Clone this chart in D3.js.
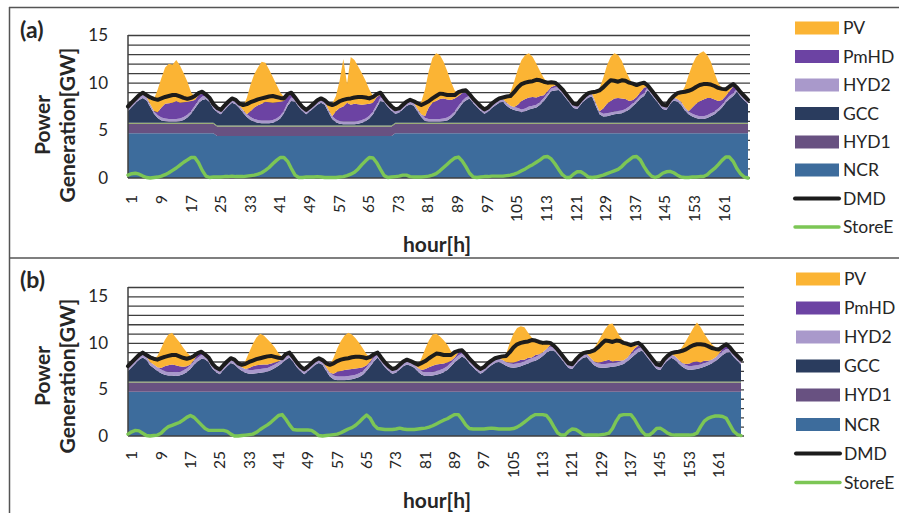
<!DOCTYPE html>
<html><head><meta charset="utf-8">
<script src="https://cdn.jsdelivr.net/npm/d3@7"></script>
<style>body{margin:0;background:#fff;}svg{display:block;font-family:Lato,"Open Sans",sans-serif;}</style>
</head><body>
<svg id="chart" width="899" height="513"></svg>
<script>
// ---------------- DATA ----------------
const xTickLabels = [1,9,17,25,33,41,49,57,65,73,81,89,97,105,113,121,129,137,145,153,161];
const legendNames = ["PV","PmHD","HYD2","GCC","HYD1","NCR","DMD","StoreE"];

// Demand (same in both panels)
const dmd = [
7.5,7.9,8.3,8.7,8.95,8.7,8.45,8.3,8.2,8.35,8.5,8.6,8.7,8.7,8.55,8.4,8.3,8.4,8.6,8.9,9.05,8.75,8.4,7.75,
7.35,7.15,7.6,8.0,8.35,8.2,7.8,7.65,7.75,7.95,8.1,8.25,8.35,8.45,8.55,8.6,8.5,8.4,8.35,8.8,8.95,8.45,7.9,7.45,
7.15,7.45,7.8,8.15,8.35,8.15,7.8,7.65,7.8,8.05,8.2,8.3,8.35,8.45,8.5,8.5,8.45,8.35,8.5,8.8,8.95,8.4,7.9,7.5,
7.2,7.3,7.65,8.0,8.2,8.05,7.85,7.65,7.85,8.05,8.35,8.6,8.85,8.8,8.7,8.7,8.7,9.0,9.15,9.2,8.8,8.3,7.9,7.5,
7.2,7.4,7.8,8.1,8.35,8.45,8.55,8.6,9.0,9.5,9.85,10.0,10.1,10.15,10.3,10.25,10.1,10.0,10.05,10.0,9.7,9.3,8.8,8.3,
7.8,7.7,8.2,8.6,8.9,9.0,9.05,9.2,9.5,9.9,10.25,10.2,10.1,10.25,10.2,10.0,9.9,9.75,9.9,10.0,9.7,9.2,8.7,8.2,
7.7,7.6,8.2,8.6,8.9,9.0,9.05,9.15,9.3,9.55,9.75,9.85,9.85,9.8,9.65,9.45,9.35,9.3,9.6,9.85,9.5,9.0,8.6,8.2];

// ----- Panel (a) -----
const ncrA = [
4.7,4.7,4.7,4.7,4.7,4.7,4.7,4.7,4.7,4.7,4.7,4.7,4.7,4.7,4.7,4.7,4.7,4.7,4.7,4.7,4.7,4.7,4.7,4.7,
4.4,4.4,4.4,4.4,4.4,4.4,4.4,4.4,4.4,4.4,4.4,4.4,4.4,4.4,4.4,4.4,4.4,4.4,4.4,4.4,4.4,4.4,4.4,4.4,
4.4,4.4,4.4,4.4,4.4,4.4,4.4,4.4,4.4,4.4,4.4,4.4,4.4,4.4,4.4,4.4,4.4,4.4,4.4,4.4,4.4,4.4,4.4,4.4,
4.7,4.7,4.7,4.7,4.7,4.7,4.7,4.7,4.7,4.7,4.7,4.7,4.7,4.7,4.7,4.7,4.7,4.7,4.7,4.7,4.7,4.7,4.7,4.7,
4.7,4.7,4.7,4.7,4.7,4.7,4.7,4.7,4.7,4.7,4.7,4.7,4.7,4.7,4.7,4.7,4.7,4.7,4.7,4.7,4.7,4.7,4.7,4.7,
4.7,4.7,4.7,4.7,4.7,4.7,4.7,4.7,4.7,4.7,4.7,4.7,4.7,4.7,4.7,4.7,4.7,4.7,4.7,4.7,4.7,4.7,4.7,4.7,
4.7,4.7,4.7,4.7,4.7,4.7,4.7,4.7,4.7,4.7,4.7,4.7,4.7,4.7,4.7,4.7,4.7,4.7,4.7,4.7,4.7,4.7,4.7,4.7];
const hyd1A = [
1,1,1,1,1,1,1,1,1,1,1,1,1,1,1,1,1,1,1,1,1,1,1,1,
1,1,1,1,1,1,1,1,1,1,1,1,1,1,1,1,1,1,1,1,1,1,1,1,
1,1,1,1,1,1,1,1,1,1,1,1,1,1,1,1,1,1,1,1,1,1,1,1,
1,1,1,1,1,1,1,1,1,1,1,1,1,1,1,1,1,1,1,1,1,1,1,1,
1,1,1,1,1,1,1,1,1,1,1,1,1,1,1,1,1,1,1,1,1,1,1,1,
1,1,1,1,1,1,1,1,1,1,1,1,1,1,1,1,1,1,1,1,1,1,1,1,
1,1,1,1,1,1,1,1,1,1,1,1,1,1,1,1,1,1,1,1,1,1,1,1];
const othA = [
.1,.1,.1,.1,.1,.1,.1,.1,.1,.1,.1,.1,.1,.1,.1,.1,.1,.1,.1,.1,.1,.1,.1,.1,
.1,.1,.1,.1,.1,.1,.1,.1,.1,.1,.1,.1,.1,.1,.1,.1,.1,.1,.1,.1,.1,.1,.1,.1,
.1,.1,.1,.1,.1,.1,.1,.1,.1,.1,.1,.1,.1,.1,.1,.1,.1,.1,.1,.1,.1,.1,.1,.1,
.1,.1,.1,.1,.1,.1,.1,.1,.1,.1,.1,.1,.1,.1,.1,.1,.1,.1,.1,.1,.1,.1,.1,.1,
.1,.1,.1,.1,.1,.1,.1,.1,.1,.1,.1,.1,.1,.1,.1,.1,.1,.1,.1,.1,.1,.1,.1,.1,
.1,.1,.1,.1,.1,.1,.1,.1,.1,.1,.1,.1,.1,.1,.1,.1,.1,.1,.1,.1,.1,.1,.1,.1,
.1,.1,.1,.1,.1,.1,.1,.1,.1,.1,.1,.1,.1,.1,.1,.1,.1,.1,.1,.1,.1,.1,.1,.1];
const gccA = [
1.24,1.64,2.04,2.39,2.59,2.34,1.64,0.94,0.49,0.24,0.14,0.09,0.09,0.09,0.14,0.29,0.54,0.94,1.49,2.04,2.39,2.49,2.14,1.49,
1.39,1.19,1.64,2.04,2.39,2.24,1.84,1.34,0.89,0.59,0.39,0.29,0.24,0.24,0.24,0.29,0.44,0.74,1.29,2.09,2.59,2.49,1.94,1.49,
1.19,1.49,1.84,2.19,2.39,2.19,1.39,0.69,0.34,0.19,0.14,0.14,0.14,0.14,0.19,0.29,0.44,0.74,1.19,1.89,2.59,2.44,1.94,1.54,
0.94,1.04,1.39,1.74,1.94,1.79,1.14,0.59,0.19,0.09,0.09,0.09,0.09,0.14,0.24,0.49,0.89,1.44,1.99,2.34,2.54,2.04,1.64,1.24,
0.94,1.14,1.54,1.84,2.09,2.19,1.79,1.49,1.34,1.24,1.09,1.19,1.39,1.49,1.59,1.89,2.29,2.79,3.29,3.39,3.44,3.04,2.54,2.04,
1.54,1.44,1.94,2.34,2.64,2.74,1.79,0.89,0.64,0.69,0.79,0.89,0.94,0.99,1.14,1.39,1.74,2.09,2.54,2.79,3.44,2.94,2.44,1.94,
1.44,1.34,1.94,2.34,2.19,1.89,1.29,0.89,0.64,0.49,0.39,0.39,0.49,0.69,0.89,1.19,1.59,2.09,2.49,2.79,3.24,2.74,2.34,1.94];
const hyd2A = [
.3,.3,.3,.35,.4,.35,.3,.3,.3,.3,.3,.3,.3,.3,.3,.3,.3,.3,.3,.35,.35,.3,.3,.3,
.3,.3,.3,.3,.3,.3,.3,.3,.3,.3,.3,.3,.3,.3,.3,.3,.3,.3,.3,.3,.35,.3,.3,.3,
.3,.3,.3,.3,.3,.3,.3,.3,.3,.3,.3,.3,.3,.3,.3,.3,.3,.3,.3,.3,.35,.3,.3,.3,
.3,.3,.3,.3,.3,.3,.3,.3,.3,.3,.3,.3,.3,.3,.3,.3,.3,.3,.3,.3,.3,.3,.3,.3,
.3,.3,.3,.3,.3,.3,.3,.3,.3,.3,.3,.3,.3,.3,.3,.3,.3,.3,.3,.3,.3,.3,.3,.3,
.3,.3,.3,.3,.3,.3,.3,.3,.3,.3,.3,.3,.3,.3,.3,.3,.3,.3,.3,.3,.3,.3,.3,.3,
.3,.3,.3,.3,.3,.3,.3,.3,.3,.3,.3,.3,.3,.3,.3,.3,.3,.3,.3,.3,.3,.3,.3,.3];
const pmhdA = [
0,0,0,0,0,0,0,0,.3,1.05,1.55,1.65,1.7,1.9,1.65,1.55,1.35,1.05,.6,.5,.3,0,0,0,
0,0,0,0,0,0,0,0,0,.6,1.2,1.55,1.75,1.95,1.9,1.8,1.7,1.45,1.0,.7,.3,0,0,0,
0,0,0,0,0,0,0,0,.85,1.35,1.55,1.95,1.75,1.85,1.75,1.6,1.5,1.25,.9,.8,.3,0,0,0,
0,0,0,0,0,0,0,0,.2,1.2,1.7,1.9,2.1,2.1,1.9,1.6,1.35,1.05,.8,.5,0,0,0,0,
0,0,0,0,0,0,0,0,0,.35,.9,1.0,.95,.9,.75,.6,.3,.2,.15,.2,0,0,0,0,
0,0,0,0,0,0,0,0,.55,1.0,1.2,1.35,1.35,1.25,1.05,.6,.35,.3,.35,.6,0,0,0,0,
0,0,0,0,0,0,0,0,.65,1.2,1.55,1.75,1.8,1.6,1.25,.8,.5,.4,.5,.7,0,0,0,0];
const pvA = [
0,0,0,0,0,0,.5,1.25,2.4,3.1,3.8,4.15,4.0,4.3,3.9,3.05,2.1,.9,.3,0,0,0,0,0,
0,0,0,0,0,0,0,.35,1.7,2.8,3.5,3.95,4.4,4.1,3.45,2.7,1.85,1.0,.4,0,0,0,0,0,
0,0,0,0,0,0,.45,1.3,1.6,2.85,5.0,2.0,5.0,4.6,3.95,3.3,2.45,1.5,.7,.2,0,0,0,0,
0,0,0,0,0,0,.45,1.3,2.8,3.8,4.7,5.0,4.6,3.85,2.95,1.9,.85,.3,0,0,0,0,0,0,
0,0,0,0,0,0,.5,1.4,2.65,3.7,4.3,4.6,4.65,4.2,3.55,2.6,1.8,.9,.35,.15,0,0,0,0,
0,0,0,0,0,0,.9,2.4,3.2,4.0,4.6,4.75,4.5,3.95,3.0,2.4,1.6,1.2,.75,.35,0,0,0,0,
0,0,0,0,.45,.9,2.2,3.8,4.5,4.9,5.05,5.05,4.5,3.8,2.75,1.9,1.2,.55,.3,0,0,0,0,0];
const storeA = [
.3,.45,.5,.4,.2,.05,0,.05,.1,.2,.35,.55,.8,1.05,1.35,1.65,1.9,2.15,2.15,1.6,.8,.2,.05,.1,
.1,.1,.15,.15,.2,.15,.15,.15,.2,.25,.3,.4,.55,.8,1.1,1.5,1.85,2.15,2.15,1.75,1.0,.3,.05,.05,
.1,.1,.1,.15,.1,.05,.05,.05,.05,.1,.15,.25,.4,.6,.95,1.4,1.8,2.15,2.1,1.6,.9,.25,.05,.1,
.15,.2,.3,.3,.15,.1,.1,.1,.15,.2,.3,.45,.75,1.1,1.45,1.8,2.1,2.2,1.8,1.2,.5,.1,.05,.1,
.15,.15,.2,.2,.2,.2,.25,.3,.4,.55,.75,.95,1.2,1.4,1.65,1.9,2.2,2.25,2.0,1.5,.9,.35,.05,.05,
.4,.65,.65,.4,.1,.05,.1,.2,.3,.45,.6,.75,.9,1.2,1.6,1.9,2.2,2.25,1.9,1.2,.6,.2,.05,.2,
.5,.65,.7,.55,.3,.1,.05,.05,.1,.1,.15,.15,.35,.7,1.0,1.4,1.85,2.2,2.2,1.75,1.0,.45,.1,0];

// ----- Panel (b) -----
const ncrB = [
4.75,4.75,4.75,4.75,4.75,4.75,4.75,4.75,4.75,4.75,4.75,4.75,4.75,4.75,4.75,4.75,4.75,4.75,4.75,4.75,4.75,4.75,4.75,4.75,
4.75,4.75,4.75,4.75,4.75,4.75,4.75,4.75,4.75,4.75,4.75,4.75,4.75,4.75,4.75,4.75,4.75,4.75,4.75,4.75,4.75,4.75,4.75,4.75,
4.75,4.75,4.75,4.75,4.75,4.75,4.75,4.75,4.75,4.75,4.75,4.75,4.75,4.75,4.75,4.75,4.75,4.75,4.75,4.75,4.75,4.75,4.75,4.75,
4.75,4.75,4.75,4.75,4.75,4.75,4.75,4.75,4.75,4.75,4.75,4.75,4.75,4.75,4.75,4.75,4.75,4.75,4.75,4.75,4.75,4.75,4.75,4.75,
4.75,4.75,4.75,4.75,4.75,4.75,4.75,4.75,4.75,4.75,4.75,4.75,4.75,4.75,4.75,4.75,4.75,4.75,4.75,4.75,4.75,4.75,4.75,4.75,
4.75,4.75,4.75,4.75,4.75,4.75,4.75,4.75,4.75,4.75,4.75,4.75,4.75,4.75,4.75,4.75,4.75,4.75,4.75,4.75,4.75,4.75,4.75,4.75,
4.75,4.75,4.75,4.75,4.75,4.75,4.75,4.75,4.75,4.75,4.75,4.75,4.75,4.75,4.75,4.75,4.75,4.75,4.75,4.75,4.75,4.75,4.75,4.75];
const hyd1B = hyd1A.slice();
const othB = othA.slice();
const gccB = [
1.14,1.54,1.94,2.34,2.59,2.34,1.74,1.44,1.14,0.89,0.74,0.64,0.64,0.59,0.64,0.79,0.99,1.34,1.84,2.14,2.44,2.39,2.04,1.39,
0.99,0.79,1.24,1.64,1.99,1.84,1.44,1.14,0.94,0.84,0.84,0.89,0.94,0.99,1.04,1.24,1.44,1.69,1.99,2.34,2.59,2.09,1.54,1.09,
0.79,1.09,1.44,1.79,1.99,1.79,1.14,0.54,0.24,0.14,0.14,0.14,0.19,0.24,0.34,0.49,0.74,1.14,1.64,2.14,2.59,2.04,1.54,1.14,
0.84,0.94,1.29,1.64,1.84,1.69,1.49,1.04,0.74,0.59,0.59,0.64,0.74,0.84,0.99,1.24,1.64,2.04,2.39,2.69,2.44,1.94,1.54,1.14,
0.84,1.04,1.44,1.74,1.99,2.09,1.94,1.69,1.54,1.49,1.54,1.64,1.79,1.94,2.09,2.24,2.44,2.74,3.09,3.34,3.34,2.94,2.44,1.94,
1.44,1.34,1.84,2.24,2.54,2.64,2.14,1.74,1.54,1.49,1.49,1.54,1.59,1.64,1.74,1.89,2.14,2.49,2.84,3.14,3.34,2.84,2.34,1.84,
1.34,1.24,1.84,2.24,2.54,2.34,1.94,1.59,1.34,1.24,1.29,1.34,1.44,1.59,1.74,1.94,2.19,2.49,2.84,3.09,3.14,2.64,2.24,1.84];
const hyd2B = [
.35,.35,.35,.35,.35,.35,.35,.4,.4,.4,.4,.4,.4,.4,.4,.4,.4,.4,.4,.4,.4,.35,.35,.35,
.35,.35,.35,.35,.35,.35,.35,.4,.4,.4,.4,.4,.4,.4,.4,.4,.4,.4,.4,.4,.35,.35,.35,.35,
.35,.35,.35,.35,.35,.35,.4,.4,.4,.4,.4,.4,.4,.4,.4,.4,.4,.4,.4,.4,.35,.35,.35,.35,
.35,.35,.35,.35,.35,.35,.35,.4,.4,.4,.4,.4,.4,.4,.4,.4,.4,.4,.4,.35,.35,.35,.35,.35,
.35,.35,.35,.35,.35,.35,.4,.4,.4,.4,.4,.4,.4,.4,.4,.4,.4,.4,.4,.4,.35,.35,.35,.35,
.35,.35,.35,.35,.35,.35,.4,.4,.4,.4,.4,.4,.4,.4,.4,.4,.4,.4,.4,.4,.35,.35,.35,.35,
.35,.35,.35,.35,.35,.4,.4,.4,.4,.4,.4,.4,.4,.4,.4,.4,.4,.4,.4,.4,.35,.35,.35,.35];
const pmhdB = [
0,0,0,0,0,0,0,0,0,.15,.5,.7,.8,.75,.6,.4,.25,.1,.1,.35,.2,0,0,0,
0,0,0,0,0,0,0,0,0,.2,.4,.45,.45,.45,.4,.3,.2,.1,0,.15,0,0,0,0,
0,0,0,0,0,0,0,0,.2,.5,.6,.7,.7,.7,.65,.55,.4,.2,.1,.25,0,0,0,0,
0,0,0,0,0,0,0,0,.1,.35,.55,.65,.7,.65,.55,.4,.2,.15,.3,.1,0,0,0,0,
0,0,0,0,0,0,0,0,.1,.15,.2,.3,.15,.2,.1,.2,.1,0,0,.15,0,0,0,0,
0,0,0,0,0,0,0,0,.1,.2,.35,.4,.15,.2,.1,0,0,.15,.3,.3,0,0,0,0,
0,0,0,0,0,0,0,0,.15,.3,.4,.4,.2,.25,.1,0,0,.1,.3,.3,0,0,0,0];
const pvB = [
0,0,0,0,0,0,.35,.55,1.2,2.1,2.8,3.3,3.4,3.0,2.6,2.05,1.5,.9,.25,0,0,0,0,0,
0,0,0,0,0,0,0,.15,.9,1.7,2.4,3.0,3.35,3.1,2.7,2.2,1.6,.85,.25,0,0,0,0,0,
0,0,0,0,0,0,.3,.8,1.7,2.5,3.2,3.7,3.95,3.7,3.25,2.7,2.0,1.2,.4,0,0,0,0,0,
0,0,0,0,0,0,0,.3,1.3,2.2,2.9,3.35,3.3,2.95,2.5,1.9,1.0,.35,0,0,0,0,0,0,
0,0,0,0,0,0,.2,.85,2.1,3.1,3.6,3.6,3.5,2.7,2.15,1.6,1.2,.95,.55,.1,0,0,0,0,
0,0,0,0,0,0,.5,1.4,2.2,2.85,3.4,3.8,4.1,3.3,2.6,2.05,1.4,.7,.35,0,0,0,0,0,
0,0,0,0,0,.25,.8,1.75,2.45,3.1,3.65,4.2,3.8,2.9,2.3,1.7,1.05,.35,0,0,0,0,0,0];
const storeB = [
.2,.45,.6,.55,.3,.05,0,.05,.1,.3,.7,1.0,1.15,1.3,1.45,1.7,2.0,2.2,2.0,1.6,1.2,.8,.6,.6,
.6,.6,.6,.5,.2,0,0,.05,.1,.15,.2,.4,.7,.95,1.2,1.5,1.85,2.2,2.3,1.8,1.2,.7,.65,.65,
.65,.65,.6,.35,.05,0,.05,.1,.15,.2,.35,.55,.75,.9,1.15,1.5,1.9,2.25,1.9,1.2,.8,.75,.7,.7,
.7,.75,.85,.75,.7,.7,.7,.75,.8,.85,.95,1.1,1.3,1.5,1.7,1.85,2.1,2.3,2.3,1.8,1.2,.8,.75,.75,
.75,.75,.8,.85,.8,.75,.75,.75,.75,.8,.95,1.2,1.5,1.8,2.1,2.3,2.3,2.3,2.2,1.7,1.0,.35,.1,.1,
.5,.75,.7,.45,.15,.1,.1,.1,.1,.15,.2,.3,.8,1.6,2.2,2.3,2.3,2.3,1.8,1.1,.5,.1,.1,.4,
.8,.85,.6,.3,.15,.1,.1,.1,.1,.1,.15,.3,1.0,1.6,1.9,2.05,2.15,2.15,2.1,1.9,1.2,.5,.15,.05];

// ---------------- STYLE / LAYOUT ----------------
const colors = {PV:"#FBB434", PmHD:"#6C43A3", HYD2:"#A999CB", GCC:"#2A3C5E", HYD1:"#685181",
  NCR:"#3D6C9C", OTH:"#86A455", DMD:"#1c1c1c", StoreE:"#7CC655"};
const stackKeys = ["NCR","HYD1","OTH","GCC","HYD2","PmHD","PV"];
const textColor = "#262626";

const panels = [
  {label:"(a)", labelY:38, x0:128, x1:750, xa1:748, yTop:35, yBot:178, ymax:15,
   tickTop:195, titleY:252, yTitleCY:125,
   legendX:795, legendTX:843, legendYs:[28,56.5,85,113.5,142,170,198.5,227],
   data:{NCR:ncrA,HYD1:hyd1A,OTH:othA,GCC:gccA,HYD2:hyd2A,PmHD:pmhdA,PV:pvA,DMD:dmd,StoreE:storeA}},
  {label:"(b)", labelY:288, x0:128, x1:744, xa1:741, yTop:287, yBot:436, ymax:16,
   tickTop:451, titleY:508, yTitleCY:376,
   legendX:796, legendTX:844, legendYs:[279,308,337,366,395,424.5,453.5,482.5],
   data:{NCR:ncrB,HYD1:hyd1B,OTH:othB,GCC:gccB,HYD2:hyd2B,PmHD:pmhdB,PV:pvB,DMD:dmd,StoreE:storeB}}
];

const svg = d3.select("#chart");
svg.append("rect").attr("width",899).attr("height",513).attr("fill","#fff");

// panel frames
svg.append("line").attr("x1",9).attr("x2",899).attr("y1",7.5).attr("y2",7.5).attr("stroke","#555").attr("stroke-width",1.5);
svg.append("line").attr("x1",9).attr("x2",899).attr("y1",258).attr("y2",258).attr("stroke","#555").attr("stroke-width",1.5);
svg.append("line").attr("x1",9.5).attr("x2",9.5).attr("y1",7).attr("y2",513).attr("stroke","#555").attr("stroke-width",1.5);

const hours = d3.range(1, 169);

panels.forEach(p => {
  const g = svg.append("g");
  const x = d3.scaleLinear().domain([1,168]).range([p.x0, p.xa1]);
  const y = d3.scaleLinear().domain([0,p.ymax]).range([p.yBot, p.yTop]);
  const catW = (p.x1 - p.x0) / 168;
  const xl = d3.scaleLinear().domain([0.5,168.5]).range([p.x0+2, p.x1+2]);

  // gridlines
  g.append("g").attr("transform",`translate(${p.x0},0)`)
    .call(d3.axisLeft(y).tickValues(d3.range(1,p.ymax+1)).tickSize(-(p.x1-p.x0)).tickFormat(""))
    .call(s=>s.select(".domain").remove())
    .selectAll("line").attr("stroke","#3f3f3f").attr("stroke-width",1.3);

  // stacked areas
  const rows = hours.map((h,i)=>{
    const r = {hour:h};
    stackKeys.forEach(k=> r[k] = p.data[k][i]);
    return r;
  });
  const stacked = d3.stack().keys(stackKeys)(rows);
  const area = d3.area().x(d=>x(d.data.hour)).y0(d=>y(d[0])).y1(d=>y(d[1]));
  g.selectAll("path.layer").data(stacked).join("path")
    .attr("class","layer").attr("fill",d=>colors[d.key]).attr("d",area);

  // axis lines
  g.append("line").attr("x1",p.x0).attr("x2",p.x0).attr("y1",p.yTop).attr("y2",p.yBot)
    .attr("stroke","#3f3f3f").attr("stroke-width",1.5);
  g.append("line").attr("x1",p.x0).attr("x2",p.x1).attr("y1",p.yBot).attr("y2",p.yBot)
    .attr("stroke","#3f3f3f").attr("stroke-width",1.5);

  // DMD line
  const line = d3.line().x((d,i)=>x(hours[i])).y(d=>y(d));
  g.append("path").datum(p.data.DMD).attr("d",line).attr("fill","none")
    .attr("stroke",colors.DMD).attr("stroke-width",4).attr("stroke-linejoin","round").attr("stroke-linecap","round");
  // StoreE line
  g.append("path").datum(p.data.StoreE).attr("d",line).attr("fill","none")
    .attr("stroke",colors.StoreE).attr("stroke-width",3.4).attr("stroke-linejoin","round").attr("stroke-linecap","round");

  // y tick labels
  g.append("g").attr("transform",`translate(${p.x0},0)`)
    .call(d3.axisLeft(y).tickValues([0,5,10,15]).tickSize(0).tickPadding(20))
    .call(s=>s.select(".domain").remove())
    .selectAll("text").attr("font-size",17).attr("fill",textColor).attr("font-family","Lato");

  // x tick labels (rotated)
  g.selectAll("text.xt").data(xTickLabels).join("text").attr("class","xt")
    .attr("transform",d=>`translate(${xl(d)},${p.tickTop}) rotate(-90)`)
    .attr("text-anchor","end").attr("dy","0.35em")
    .attr("font-size",15.5).attr("fill",textColor).text(d=>d);

  // axis titles
  g.append("text").attr("x",437).attr("y",p.titleY).attr("text-anchor","middle")
    .attr("font-size",21).attr("font-weight","bold").attr("fill",textColor).text("hour[h]");
  g.append("text").attr("transform",`translate(43,${p.yTitleCY}) rotate(-90)`).attr("text-anchor","middle")
    .attr("dy","0.35em").attr("font-size",21).attr("font-weight","bold").attr("fill",textColor).text("Power");
  g.append("text").attr("transform",`translate(68,${p.yTitleCY}) rotate(-90)`).attr("text-anchor","middle")
    .attr("dy","0.35em").attr("font-size",21).attr("font-weight","bold").attr("fill",textColor).text("Generation[GW]");
  g.append("text").attr("x",20).attr("y",p.labelY).attr("font-size",23).attr("font-weight","bold")
    .attr("fill",textColor).text(p.label);

  // legend
  legendNames.forEach((name,i)=>{
    const ly = p.legendYs[i];
    if (name === "DMD" || name === "StoreE") {
      g.append("line").attr("x1",p.legendX).attr("x2",p.legendX+44).attr("y1",ly).attr("y2",ly)
        .attr("stroke",colors[name]).attr("stroke-width",name==="DMD"?4:3.4).attr("stroke-linecap","round");
    } else {
      g.append("rect").attr("x",p.legendX).attr("y",ly-6.5).attr("width",44).attr("height",13)
        .attr("fill",colors[name]);
    }
    g.append("text").attr("x",p.legendTX).attr("y",ly).attr("dy","0.36em")
      .attr("font-size",17.5).attr("fill",textColor).text(name);
  });
});
</script>
</body></html>
